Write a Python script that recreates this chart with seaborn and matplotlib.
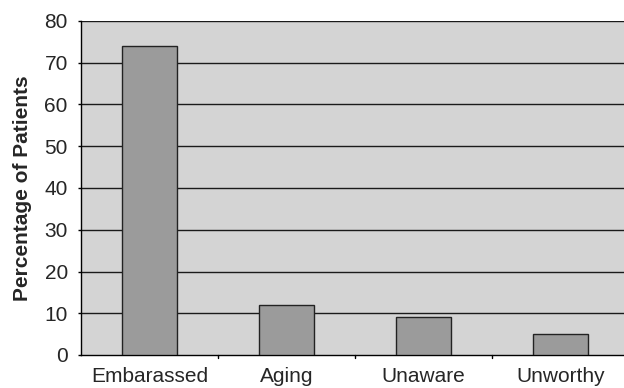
import matplotlib
matplotlib.use("Agg")
import matplotlib.pyplot as plt
import seaborn as sns
import pandas as pd
import numpy as np

categories = ["Embarassed", "Aging", "Unaware", "Unworthy"]
percentages = [74, 12, 9, 5]
y_ticks = [0, 10, 20, 30, 40, 50, 60, 70, 80]

df = pd.DataFrame({"reason": categories, "pct": percentages})

sns.set_style("white")
plt.rcParams["font.family"] = ["Liberation Sans", "DejaVu Sans"]

fig = plt.figure(figsize=(6.24, 3.88), dpi=100)
ax = fig.add_axes([81 / 624, 33 / 388, 548 / 624, 334 / 388])
ax.set_facecolor("#d4d4d4")

sns.barplot(data=df, x="reason", y="pct", order=categories, color="#9b9b9b",
            edgecolor="#222222", linewidth=1.0, width=0.4, saturation=1, ax=ax, zorder=3)

ax.set_ylim(0, 80)
ax.set_xlim(-0.5, len(categories) - 0.5)
ax.set_yticks(y_ticks)
for v in y_ticks[1:]:
    ax.axhline(v, color="#1a1a1a", linewidth=1.0, zorder=1)

# category boundary ticks on x axis, labels centred under bars
ax.set_xticks(np.arange(len(categories)))
ax.set_xticklabels(categories, fontsize=15)
ax.tick_params(axis="x", length=0, pad=8.5)
for b in np.arange(0.5, len(categories) - 0.5, 1.0):
    ax.plot([b, b], [0, -0.01], transform=ax.get_xaxis_transform(),
            color="black", linewidth=1, clip_on=False)

ax.tick_params(axis="y", length=2.5, width=1, pad=7, labelsize=15, left=True, color="black")

for side in ["top", "right"]:
    ax.spines[side].set_visible(False)
for side in ["left", "bottom"]:
    ax.spines[side].set_color("black")
    ax.spines[side].set_linewidth(1.0)

ax.set_xlabel("")
ax.set_ylabel("Percentage of Patients", fontsize=15, fontweight="bold", labelpad=9)

fig.savefig("out.png", dpi=100)
